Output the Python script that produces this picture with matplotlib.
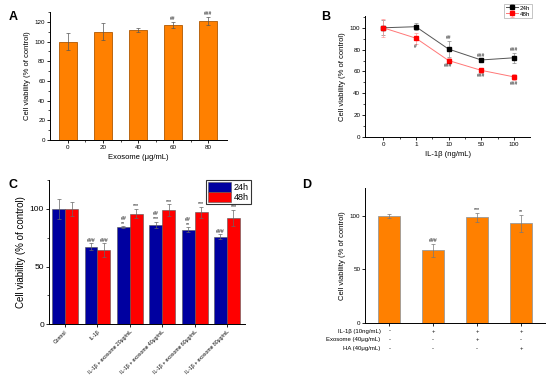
import matplotlib.pyplot as plt
import numpy as np
from matplotlib.ticker import AutoMinorLocator

plt.rcParams['font.family'] = ['Liberation Sans', 'DejaVu Sans']

orange = '#FF8000'

# A
a_dose = ['0', '20', '40', '60', '80']
a_val = [100, 110, 112, 117, 121]
a_err = [8.5, 8.5, 2, 3, 4]
a_sig = ['', '', '', '##', '###']

# B
b_dose = ['0', '1', '10', '50', '100']
b_24 = [100, 101, 80.5, 70.5, 72.5]
b_24err = [7, 3, 7.5, 1, 4.5]
b_48 = [100, 90.5, 70, 61, 55]
b_48err = [8, 5, 2, 2, 3]
b_sig24 = ['', '', '##', '###', '###']
b_sig48 = ['', '#', '###', '###', '###']

# C
c_groups = ['Control', 'IL-1β', 'IL-1β + exosome 20μg/mL', 'IL-1β + exosome 40μg/mL',
            'IL-1β + exosome 60μg/mL', 'IL-1β + exosome 80μg/mL']
c_24 = [100, 67, 84, 86, 82, 76]
c_24err = [9, 3, 1, 3, 2, 2]
c_48 = [100, 64, 96, 99, 97, 92]
c_48err = [6, 6, 4, 5, 5, 7]
c_sig24 = ['', '###', '##\n**', '##\n***', '##\n**', '###']
c_sig48 = ['', '###', '***', '***', '***', '***']

# D
d_val = [100, 68, 98.5, 93]
d_err = [2, 6, 4.5, 8]
d_sig = ['', '###', '***', '**']
d_rows = ['IL-1β (10ng/mL)', 'Exosome (40μg/mL)', 'HA (40μg/mL)']
d_signs = [['-', '+', '+', '+'], ['-', '-', '+', '-'], ['-', '-', '-', '+']]

fig = plt.figure(figsize=(5.5, 3.76), dpi=100)
fs = 4.5

def style(ax):
    ax.tick_params(labelsize=fs, length=2, width=0.6, pad=1.5)
    ax.tick_params(which='minor', length=1.2, width=0.5)
    for s in ax.spines.values():
        s.set_linewidth(0.7)
    ax.spines['top'].set_visible(False)
    ax.spines['right'].set_visible(False)
    ax.yaxis.set_minor_locator(AutoMinorLocator(2))

# ---- A
ax = fig.add_axes([0.091, 0.628, 0.322, 0.34])
x = np.arange(len(a_val))
ax.bar(x, a_val, 0.5, color=orange, edgecolor='#B05800', linewidth=0.6,
       yerr=a_err, error_kw=dict(ecolor='#555555', elinewidth=0.5, capsize=1.2, capthick=0.5))
for i in range(len(a_val)):
    ax.text(x[i], a_val[i] + a_err[i] + 0.5, a_sig[i], ha='center', va='bottom', fontsize=3.5)
ax.set_xlim(-0.51, 4.54)
ax.set_ylim(0, 130)
ax.set_yticks([0, 20, 40, 60, 80, 100, 120])
ax.set_xticks(x)
ax.set_xticklabels(a_dose)
ax.set_xticks(x[:-1] + 0.5, minor=True)
style(ax)
ax.set_xlabel('Exosome (μg/mL)', fontsize=5.5, labelpad=3)
ax.set_ylabel('Cell viability (% of control)', fontsize=5.5, labelpad=3)
fig.text(0.015, 0.955, 'A', fontsize=9, fontweight='bold', va='center')

# ---- B
ax = fig.add_axes([0.664, 0.636, 0.3, 0.322])
x = np.arange(len(b_dose))
ax.errorbar(x, b_24, yerr=b_24err, color='#555555', ecolor='#888888', marker='s', ms=2.5,
            mfc='black', mec='black', lw=0.7, elinewidth=0.5, capsize=1.2, capthick=0.5, label='24h')
ax.errorbar(x, b_48, yerr=b_48err, color='#FF7777', ecolor='#FF9999', marker='s', ms=2.5,
            mfc='red', mec='red', lw=0.7, elinewidth=0.5, capsize=1.2, capthick=0.5, label='48h')
for i in range(len(x)):
    ax.text(x[i], b_24[i] + b_24err[i] + 0.5, b_sig24[i], ha='center', va='bottom', fontsize=3.5)
    ax.text(x[i], b_48[i] - b_48err[i] - 0.5, b_sig48[i], ha='center', va='top', fontsize=3.5)
ax.set_xlim(-0.55, 4.5)
ax.set_ylim(0, 111)
ax.set_yticks([0, 20, 40, 60, 80, 100])
ax.set_xticks(x)
ax.set_xticklabels(b_dose)
ax.set_xticks(x[:-1] + 0.5, minor=True)
style(ax)
ax.set_xlabel('IL-1β (ng/mL)', fontsize=5.5, labelpad=3)
ax.set_ylabel('Cell viability (% of control)', fontsize=5.5, labelpad=3)
leg = ax.legend(loc='upper right', bbox_to_anchor=(1.01, 1.1), fontsize=4.5, frameon=True,
                fancybox=False, edgecolor='#999999', handlelength=2.0, borderpad=0.25,
                labelspacing=0.1, handletextpad=0.3, borderaxespad=0)
leg.get_frame().set_linewidth(0.5)
fig.text(0.583, 0.955, 'B', fontsize=9, fontweight='bold', va='center')

# ---- C
ax = fig.add_axes([0.089, 0.138, 0.356, 0.383])
x = np.arange(len(c_groups))
w = 0.4
ek = dict(ecolor='#666666', elinewidth=0.5, capsize=1.2, capthick=0.5)
ax.bar(x - w / 2, c_24, w, color='#0000A0', edgecolor='#555555', linewidth=0.4,
       yerr=c_24err, error_kw=ek, label='24h')
ax.bar(x + w / 2, c_48, w, color='#FF0000', edgecolor='#555555', linewidth=0.4,
       yerr=c_48err, error_kw=ek, label='48h')
for i in range(len(x)):
    ax.text(x[i] - w / 2, c_24[i] + c_24err[i] + 0.5, c_sig24[i], ha='center', va='bottom',
            fontsize=3.8, linespacing=0.9)
    ax.text(x[i] + w / 2, c_48[i] + c_48err[i] + 0.5, c_sig48[i], ha='center', va='bottom',
            fontsize=3.8)
ax.set_xlim(-0.5, 5.55)
ax.set_ylim(0, 125)
ax.set_yticks([0, 50, 100])
ax.set_xticks(x)
style(ax)
ax.set_xticklabels(c_groups, rotation=45, ha='right', rotation_mode='anchor', fontsize=3.7)
ax.tick_params(axis='y', labelsize=6)
ax.set_ylabel('Cell viability (% of control)', fontsize=7, labelpad=3)
leg = ax.legend(loc='upper right', bbox_to_anchor=(1.03, 1.0), fontsize=6.5, frameon=True,
                fancybox=False, edgecolor='black', handlelength=2.6, handleheight=1.3,
                borderpad=0.2, labelspacing=0.0, handletextpad=0.3, borderaxespad=0)
leg.get_frame().set_linewidth(0.8)
fig.text(0.015, 0.508, 'C', fontsize=9, fontweight='bold', va='center')

# ---- D
ax = fig.add_axes([0.664, 0.141, 0.327, 0.359])
x = np.arange(len(d_val))
ax.bar(x, d_val, 0.5, color=orange, edgecolor='#999999', linewidth=0.6,
       yerr=d_err, error_kw=dict(ecolor='#777777', elinewidth=0.5, capsize=1.2, capthick=0.5))
for i in range(len(x)):
    ax.text(x[i], d_val[i] + d_err[i] + 0.5, d_sig[i], ha='center', va='bottom', fontsize=3.8)
ax.set_xlim(-0.55, 3.55)
ax.set_ylim(0, 126)
ax.set_yticks([0, 50, 100])
ax.set_xticks(x)
ax.set_xticklabels([])
style(ax)
ax.yaxis.set_minor_locator(plt.NullLocator())
ax.set_ylabel('Cell viability (% of control)', fontsize=5.5, labelpad=3)
for r, name in enumerate(d_rows):
    yy = -0.06 - r * 0.066
    ax.text(0.085, yy, name, transform=ax.transAxes, ha='right', va='center', fontsize=4.3)
    for i in range(len(x)):
        ax.text(x[i], yy, d_signs[r][i], transform=ax.get_xaxis_transform(), ha='center',
                va='center', fontsize=4.3)
fig.text(0.55, 0.508, 'D', fontsize=9, fontweight='bold', va='center')

fig.savefig('out.png', dpi=100)
